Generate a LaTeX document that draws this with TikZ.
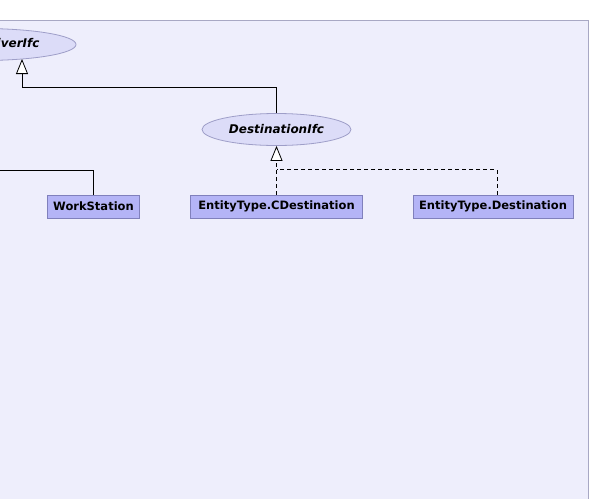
\documentclass[tikz,border=0pt]{standalone}
\usepackage{fontspec}
\setsansfont{DejaVu Sans}
\usetikzlibrary{positioning,arrows.meta,shapes.geometric,calc}
\definecolor{panel100}{HTML}{EEEEFC}
\definecolor{panel300}{HTML}{A8A8C4}
\definecolor{class200}{HTML}{B4B4F6}
\definecolor{class500}{HTML}{8080BC}
\definecolor{ifc100}  {HTML}{DCDCF8}
\definecolor{ifc300}  {HTML}{9E9EC8}
\tikzset{
  cls/.style ={draw=class500, line width=0.8pt, fill=class200,
               minimum height=23pt, inner xsep=6pt, inner ysep=0pt,
               font=\sffamily\bfseries\fontsize{11.5}{13}\selectfont},
  ifc/.style ={ellipse, draw=ifc300, line width=0.8pt, fill=ifc100,
               inner sep=0pt, minimum height=32pt,
               font=\sffamily\bfseries\itshape\fontsize{12}{14}\selectfont},
  gen/.style ={-{Triangle[length=15pt, width=12pt, fill=white]},
               draw=black, line width=0.8pt},
  lnk/.style ={draw=black, line width=0.8pt},
  dsh/.style ={dash pattern=on 4pt off 3pt}
}
\begin{document}
\begin{tikzpicture}[x=1pt, y=-1pt]
\useasboundingbox (0,0) rectangle (591,498);
\clip (0,0) rectangle (591,498);
\draw[panel300, fill=panel100, line width=0.8pt] (-10,20.5) rectangle (588.5,510);
% interfaces
\node[ifc, minimum width=188pt] (recv) at (-18,44.5) {EntityReceiverIfc};
\node[ifc, minimum width=149pt] (dest) at (276.5,129.5) {DestinationIfc};
% classes
\node[cls] (ws)    at (93.5,206.5) {WorkStation};
\node[cls, inner xsep=8pt] (cdest) at (276.5,206.5) {EntityType.CDestination};
\node[cls] (edest) at (493,206.5) {EntityType.Destination};
% bends
\coordinate (recvin) at (22,59);
\coordinate (wsup)   at (-20,170);
\coordinate (junc)   at ($(cdest.north)+(0,-25)$);
% connectors
\draw[gen] (dest.north) -- ++(0,-26) -| (recvin);
\draw[lnk] (ws.north) |- (wsup);
\draw[gen, dsh] (cdest.north) -- (dest.south);
\draw[lnk, dsh] ([xshift=4pt]edest.north) |- (junc);
\end{tikzpicture}
\end{document}
